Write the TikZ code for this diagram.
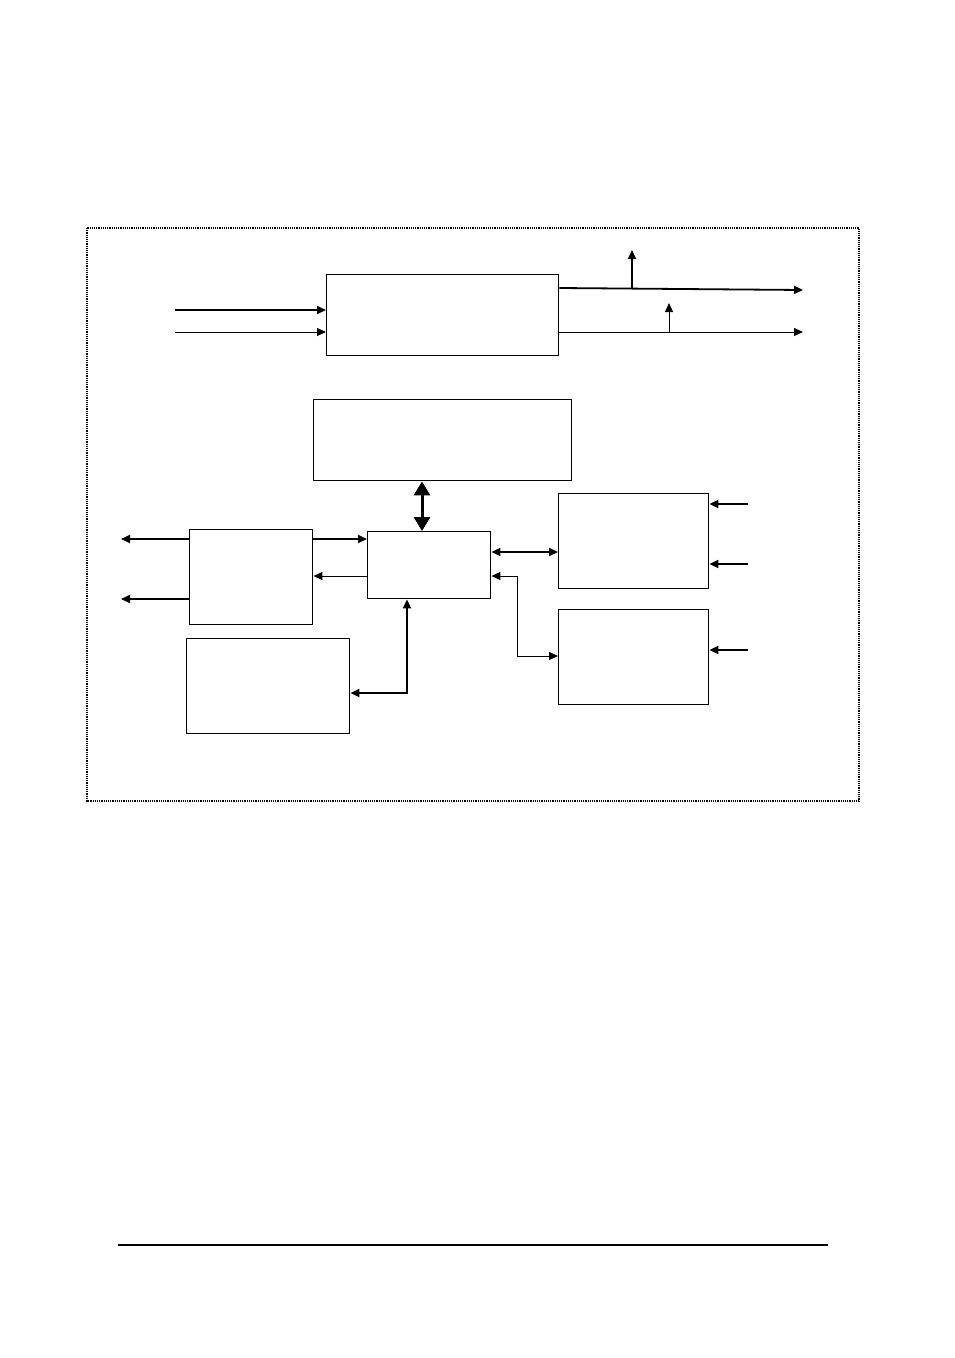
\documentclass[tikz,border=0pt]{standalone}
\usetikzlibrary{arrows.meta}
\begin{document}
\begin{tikzpicture}[x=1pt,y=-1pt,>={Triangle[length=9pt,width=8pt]},
  line width=1pt,thick/.style={line width=1.8pt},
  blk/.style={draw,line width=1.4pt,inner sep=0pt,anchor=north west}]
  \useasboundingbox (0,0) rectangle (954,1358);
  \draw[densely dotted,line width=1.2pt] (87,228) rectangle (859,801);
  % boxes
  \node[blk,minimum width=232pt,minimum height=81pt] (top) at (326,274) {};
  \node[blk,minimum width=258pt,minimum height=81pt] (mem) at (313,399) {};
  \node[blk,minimum width=123pt,minimum height=67pt] (cpu) at (367,531) {};
  \node[blk,minimum width=123pt,minimum height=95pt] (left) at (189,529) {};
  \node[blk,minimum width=163pt,minimum height=95pt] (low) at (186,638) {};
  \node[blk,minimum width=150pt,minimum height=95pt] (rone) at (558,493) {};
  \node[blk,minimum width=150pt,minimum height=95pt] (rtwo) at (558,609) {};
  % top box in and out
  \draw[thick,->] (175,310) -- (top.west |- 0,310);
  \draw[->] (175,332) -- (top.west |- 0,332);
  \draw[thick,->] (top.east |- 0,288) -- (803,290);
  \draw[thick,->] (632,289) -- (632,250);
  \draw[->] (top.east |- 0,332) -- (803,332);
  \draw[->] (669,332) -- (669,303);
  % bus
  \draw[line width=3pt,{Triangle[length=14pt,width=16pt]}-{Triangle[length=14pt,width=16pt]}]
    (mem.south -| 422,0) -- (cpu.north -| 422,0);
  % left side
  \draw[thick,->] (left.west |- 0,539) -- (121,539);
  \draw[thick,->] (left.west |- 0,599) -- (121,599);
  \draw[thick,->] (left.east |- 0,539) -- (cpu.west |- 0,539);
  \draw[->] (cpu.west |- 0,576) -- (left.east |- 0,576);
  \draw[thick,<->] (cpu.south -| 407,0) -- (407,693) -- (low.east |- 0,693);
  % right side
  \draw[thick,<->] (cpu.east |- 0,552) -- (rone.west |- 0,552);
  \draw[<->] (cpu.east |- 0,576) -- (517,576) -- (517,656) -- (rtwo.west |- 0,656);
  \draw[thick,->] (748,504) -- (rone.east |- 0,504);
  \draw[thick,->] (748,564) -- (rone.east |- 0,564);
  \draw[thick,->] (748,650) -- (rtwo.east |- 0,650);
  % footer rule
  \draw[thick] (118,1245) -- (828,1245);
\end{tikzpicture}
\end{document}
